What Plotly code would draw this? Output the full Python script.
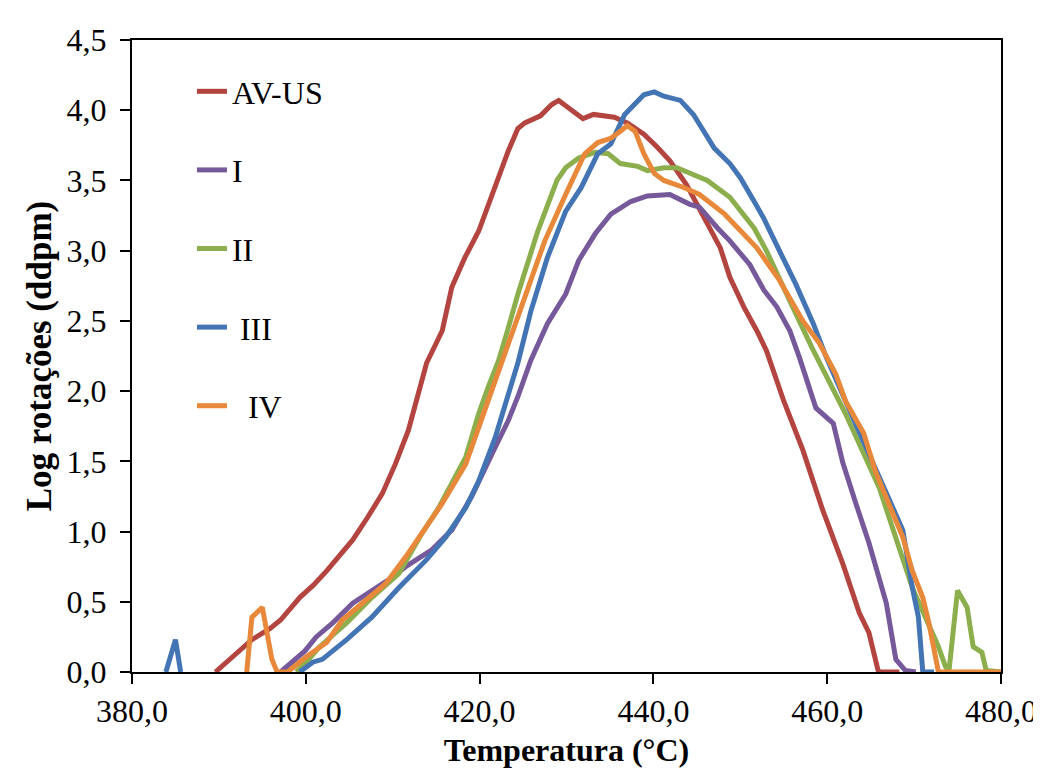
import plotly.graph_objects as go

# ---- data ----
avus_x = [389.6, 391.8, 393.8, 395.9, 397.1, 399.3, 400.9, 402.4, 403.9, 405.4, 407.1, 408.8, 410.3, 411.8,
          413.9, 415.7, 416.8, 418.3, 419.9, 421, 422.2, 423.3, 424.4, 425.2, 427.0, 428.3, 429.1, 430.5,
          431.9, 433.1, 435.5, 437.0, 438.9, 440.4, 441.9, 443.8, 445.8, 447.7, 448.8, 450.4, 451.9, 453.0,
          455.0, 457.2, 459.5, 461.8, 463.7, 464.8, 465.9, 468.3]
avus_y = [0, 0.12, 0.23, 0.31, 0.37, 0.53, 0.62, 0.72, 0.83, 0.94, 1.1, 1.27, 1.48, 1.72,
          2.2, 2.43, 2.74, 2.95, 3.14, 3.33, 3.52, 3.71, 3.87, 3.91, 3.96, 4.04, 4.07, 4.0,
          3.94, 3.97, 3.95, 3.91, 3.83, 3.74, 3.64, 3.47, 3.23, 3.02, 2.81, 2.6, 2.43, 2.29,
          1.93, 1.58, 1.15, 0.77, 0.42, 0.28, 0, 0]

i_x = [397.1, 398.6, 399.9, 401.2, 403.1, 405.4, 407.7, 409.6, 411.5, 414.5, 416.8, 419.1, 421.8, 423.3,
       424.4, 425.9, 427.8, 429.9, 431.4, 433.3, 435.1, 437.4, 439.3, 441.9, 444.2, 445.3, 447.4, 448.8,
       451.1, 452.7, 454.2, 455.7, 456.8, 458.7, 460.7, 461.8, 463.3, 464.8, 466.8, 467.9, 469.0, 470.2]
i_y = [0, 0.08, 0.15, 0.25, 0.35, 0.49, 0.58, 0.66, 0.75, 0.87, 1.01, 1.25, 1.6, 1.79,
       1.96, 2.22, 2.48, 2.69, 2.93, 3.12, 3.26, 3.35, 3.39, 3.4, 3.33, 3.31, 3.16, 3.07,
       2.9, 2.72, 2.6, 2.43, 2.24, 1.88, 1.77, 1.49, 1.2, 0.92, 0.49, 0.09, 0.01, 0]

ii_x = [398.9, 400.2, 401.6, 404.7, 407.6, 410.7, 413.1, 415.3, 418.4, 419.9, 421, 422.2, 423.3, 424.4,
        426.7, 428.9, 429.9, 431.4, 433.3, 434.8, 436.2, 438.2, 439.3, 441.2, 442.7, 444.2, 446.2, 448.8,
        450.4, 451.6, 453.0, 454.5, 456.4, 458.4, 460.2, 462.1, 466.0, 469.8, 472.8, 473.6, 474.0, 475.0,
        476.1, 476.8, 477.8, 478.3, 480]
ii_y = [0, 0.08, 0.18, 0.35, 0.53, 0.7, 0.96, 1.17, 1.53, 1.84, 2.03, 2.22, 2.45, 2.69,
        3.14, 3.5, 3.59, 3.66, 3.7, 3.69, 3.62, 3.6, 3.57, 3.59, 3.59, 3.55, 3.5, 3.38,
        3.26, 3.16, 3.0, 2.81, 2.55, 2.29, 2.08, 1.84, 1.31, 0.6, 0.18, 0.04, 0, 0.58,
        0.46, 0.18, 0.14, 0.01, 0]

iii_x = [383.9, 385.0, 385.6, None, 399.3, 400.8, 401.9, 404.7, 407.6, 410.7, 413.9, 416.1, 418.4, 419.9,
         421.8, 423.3, 424.4, 425.9, 427.8, 429.9, 431.7, 433.6, 435.1, 436.7, 437.8, 438.9, 440.1, 441.2,
         443.1, 444.6, 445.8, 447.0, 448.8, 450.0, 451.6, 452.7, 454.5, 456.4, 458.4, 459.9, 462.1, 464.5,
         467.1, 468.7, 469.8, 470.5, 471.0, 472.3]
iii_y = [0, 0.23, 0, None, 0, 0.07, 0.09, 0.23, 0.39, 0.6, 0.8, 0.96, 1.17, 1.36,
         1.67, 1.96, 2.2, 2.57, 2.95, 3.28, 3.45, 3.69, 3.76, 3.97, 4.04, 4.11, 4.13, 4.1,
         4.07, 3.97, 3.85, 3.73, 3.62, 3.52, 3.35, 3.23, 3.0, 2.76, 2.48, 2.24, 1.93, 1.6,
         1.25, 1.01, 0.6, 0.39, 0, 0]

iv_x = [393.2, 393.8, 395.0, 396.1, 396.7, 397.9, 400.1, 402.4, 404.2, 406.9, 409.2, 411.5, 413.1, 415.7,
        418.4, 420.7, 422.5, 424.4, 425.2, 427.5, 429.9, 432.1, 433.6, 435.1, 436.2, 437.0, 437.9, 438.9,
        440.1, 441.2, 443.5, 445.3, 448.2, 450.0, 451.9, 454.5, 457.2, 459.1, 461.0, 462.1, 464.2, 465.6,
        467.1, 468.7, 469.8, 471.0, 471.7, 472.8, 480]
iv_y = [0, 0.39, 0.46, 0.09, 0, 0, 0.11, 0.21, 0.37, 0.51, 0.63, 0.82, 0.96, 1.2,
        1.48, 1.88, 2.19, 2.53, 2.67, 3.07, 3.4, 3.69, 3.77, 3.8, 3.85, 3.89, 3.85, 3.69,
        3.55, 3.5, 3.45, 3.4, 3.26, 3.14, 3.02, 2.79, 2.5, 2.34, 2.12, 1.93, 1.7, 1.42,
        1.2, 0.96, 0.72, 0.53, 0.35, 0, 0]

series_names = ["AV-US", "I", "II", "\u00a0III", "\u00a0\u00a0IV"]
series_x = [avus_x, i_x, ii_x, iii_x, iv_x]
series_y = [avus_y, i_y, ii_y, iii_y, iv_y]
series_colors = ["#B3443F", "#76599A", "#8DAE4D", "#4374B3", "#E8883A"]

x_ticks = [380, 400, 420, 440, 460, 480]
y_ticks = [0, 0.5, 1, 1.5, 2, 2.5, 3, 3.5, 4, 4.5]

FONT = "Liberation Serif, Times New Roman, serif"

fig = go.Figure()
for k, (name, xs, ys, col) in enumerate(zip(series_names, series_x, series_y, series_colors)):
    fig.add_trace(go.Scatter(x=xs, y=ys, mode="lines", name=name, legendgroup=f"g{k}",
                             line=dict(color=col, width=5), connectgaps=False))

fig.update_layout(
    width=1041, height=769,
    margin=dict(l=124, r=36, t=32, b=105),
    plot_bgcolor="white", paper_bgcolor="white",
    separators=",.",
    font=dict(family=FONT, size=32, color="black"),
    legend=dict(x=0.069, y=0.962, xanchor="left", yanchor="top",
                font=dict(family=FONT, size=32, color="black"),
                tracegroupgap=34, bgcolor="rgba(0,0,0,0)"),
    xaxis=dict(range=[380, 480], tickvals=x_ticks, tickformat=".1f",
               showgrid=False, zeroline=False, showline=True, linecolor="black", linewidth=2,
               mirror=True, ticks="outside", ticklen=10, tickwidth=2, tickcolor="black",
               tickfont=dict(family=FONT, size=32),
               title=dict(text="<b>Temperatura (°C)</b>", font=dict(family=FONT, size=32), standoff=10)),
    yaxis=dict(range=[0, 4.5], tickvals=y_ticks, tickformat=".1f",
               showgrid=False, zeroline=False, showline=True, linecolor="black", linewidth=2,
               mirror=True, ticks="outside", ticklen=10, tickwidth=2, tickcolor="black",
               ticklabelstandoff=7,
               tickfont=dict(family=FONT, size=32),
               title=dict(text="<b>Log rotações (ddpm)</b>", font=dict(family=FONT, size=35), standoff=4)),
)

fig.write_html("out.html")
